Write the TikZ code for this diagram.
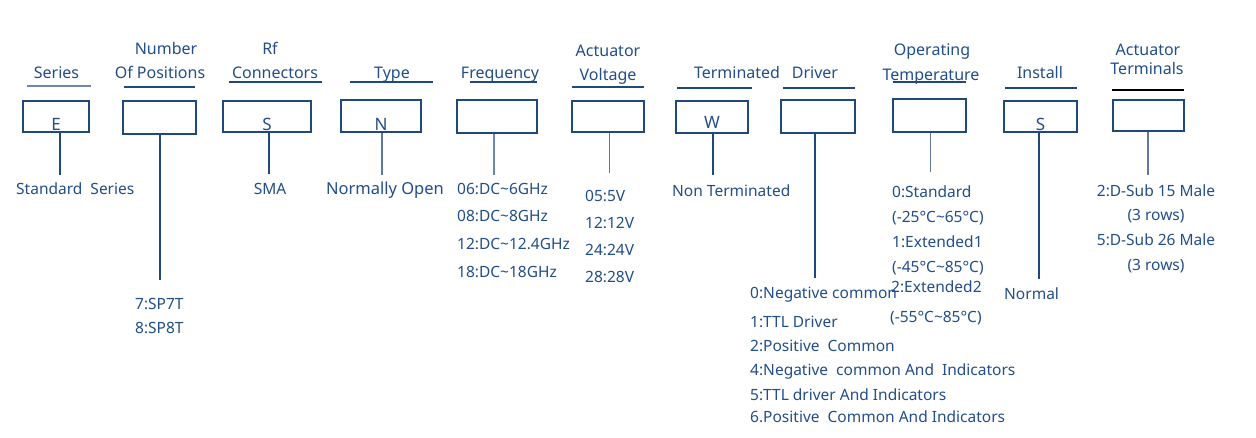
\documentclass[tikz,border=0pt]{standalone}
\usepackage{fontspec}
\setmainfont{Noto Sans}
\definecolor{txt}{RGB}{34,78,138}
\definecolor{ln}{RGB}{31,73,125}
\definecolor{lnl}{RGB}{110,135,175}
\definecolor{lng}{RGB}{95,120,155}
\tikzset{
  hdr/.style={font=\fontsize{16}{18}\selectfont, text=txt, inner sep=0pt, anchor=mid, yshift=-3pt},
  val/.style={font=\fontsize{15.5}{18}\selectfont, text=txt, inner sep=0pt, anchor=mid west, yshift=-3pt},
  valc/.style={val, anchor=mid},
  ul/.style={draw=ln, line width=1.6pt},
  codebox/.style={draw=ln, line width=1.3pt, inner sep=0pt, text=txt,
    font=\fontsize{17}{18}\selectfont, text height=29pt, text depth=0pt},
  thickbox/.style={codebox, line width=2.3pt},
  conn/.style={draw=ln, line width=2pt},
  thinconn/.style={draw=lng, line width=1pt},
}
\begin{document}
\begin{tikzpicture}[x=1pt,y=-1pt]
\useasboundingbox[fill=white] (0,0) rectangle (1256,438);

% headers
\node[hdr] (hSeries) at (56.5,73) {Series};
\node[hdr] (hNum) at (166,49) {Number};
\node[hdr] (hPos) at (160,73) {Of Positions};
\node[hdr] (hRf) at (270,49) {Rf};
\node[hdr] (hConn) at (275,73) {Connectors};
\node[hdr] (hType) at (392,73) {Type};
\node[hdr] (hFreq) at (500,73) {Frequency};
\node[hdr] (hAct) at (608,51) {Actuator};
\node[hdr] (hVolt) at (608,75) {Voltage};
\node[hdr] (hTerm) at (737,73) {Terminated};
\node[hdr] (hDrv) at (815,73) {Driver};
\node[hdr] (hOp) at (932,50) {Operating};
\node[hdr] (hTemp) at (931,75) {Temperature};
\node[hdr] (hInst) at (1040,73) {Install};
\node[hdr] (hAct2) at (1148,50) {Actuator};
\node[hdr] (hTerms) at (1147,69) {Terminals};

% header underlines
\draw[ul, draw=lnl] (27,86) -- (91,86);
\draw[ul] (124,87) -- (195,87);
\draw[ul] (229,82) -- (322,82);
\draw[ul] (350,82) -- (433,82);
\draw[ul] (470,82) -- (537,82);
\draw[ul] (572,87) -- (644,87);
\draw[ul] (677,88) -- (752,88);
\draw[ul] (783,88) -- (855,88);
\draw[ul] (893,82) -- (966,82);
\draw[ul] (1005,88) -- (1077,88);
\draw[black, line width=2.6pt] (1112,90) -- (1184,90);

% boxes
\node[codebox, minimum width=66pt, minimum height=31pt] (bE) at (56,116.5) {E};
\node[thickbox, minimum width=73pt, minimum height=33pt] (bP) at (159.5,117.5) {};
\node[codebox, minimum width=88pt, minimum height=31pt] (bS) at (267,116.5) {S};
\node[codebox, minimum width=80pt, minimum height=32pt] (bN) at (381,116) {N};
\node[thickbox, minimum width=80pt, minimum height=33pt] (bF) at (497,116.5) {};
\node[thickbox, minimum width=72pt, minimum height=31pt] (bV) at (608,116.5) {};
\node[codebox, minimum width=72pt, minimum height=32pt, text height=24pt] (bW) at (712,117) {W};
\node[codebox, line width=1.8pt, minimum width=74pt, minimum height=33pt] (bD) at (818,116.5) {};
\node[codebox, line width=1.8pt, minimum width=73pt, minimum height=33pt] (bT) at (929.5,115.5) {};
\node[codebox, minimum width=73pt, minimum height=31pt] (bI) at (1040.5,116.5) {S};
\node[codebox, minimum width=71pt, minimum height=31pt] (bA) at (1148.5,115.5) {};

% connector end points
\coordinate (eE) at (60,175);
\coordinate (eP) at (160,280);
\coordinate (eS) at (269,174);
\coordinate (eN) at (382,175);
\coordinate (eF) at (494,175);
\coordinate (eV) at (609,173);
\coordinate (eW) at (713,175);
\coordinate (eD) at (815,278);
\coordinate (eT) at (930,172);
\coordinate (eI) at (1039,279);
\coordinate (eA) at (1148,175);

\draw[conn] (bE.south -| eE) -- (eE);
\draw[conn] (bP.south -| eP) -- (eP);
\draw[conn, line width=1.6pt] (bS.south -| eS) -- (eS);
\draw[conn, draw=lng] (bN.south -| eN) -- (eN);
\draw[conn, draw=lnl, line width=2.8pt] (bF.south -| eF) -- (eF);
\draw[thinconn] (bV.south -| eV) -- (eV);
\draw[conn] (bW.south -| eW) -- (eW);
\draw[conn] (bD.south -| eD) -- (eD);
\draw[thinconn] (bT.south -| eT) -- (eT);
\draw[conn] (bI.south -| eI) -- (eI);
\draw[conn, draw=lng, line width=1.5pt] (bA.south -| eA) -- (eA);

% values
\node[val] (vE) at (16,189) {Standard\ \ Series};
\node[val] (vP1) at (135,304) {7:SP7T};
\node[val] (vP2) at (135,328) {8:SP8T};
\node[valc] (vS) at (270,189) {SMA};
\node[valc, font=\fontsize{16.5}{18}\selectfont] (vN) at (385,189) {Normally Open};
\node[val] (vF1) at (457,189) {06:DC\textasciitilde 6GHz};
\node[val] (vF2) at (457,216) {08:DC\textasciitilde 8GHz};
\node[val] (vF3) at (457,244) {12:DC\textasciitilde 12.4GHz};
\node[val] (vF4) at (457,272) {18:DC\textasciitilde 18GHz};
\node[val] (vV1) at (585,196) {05:5V};
\node[val] (vV2) at (585,223) {12:12V};
\node[val] (vV3) at (585,250) {24:24V};
\node[val] (vV4) at (585,277) {28:28V};
\node[val] (vW) at (672,191) {Non Terminated};
\node[val] (vD0) at (750,293) {0:Negative common};
\node[val] (vD1) at (750,322) {1:TTL Driver};
\node[val] (vD2) at (750,346) {2:Positive\ \ Common};
\node[val] (vD4) at (750,370) {4:Negative\ \ common And\ \ Indicators};
\node[val] (vD5) at (750,395) {5:TTL driver And Indicators};
\node[val] (vD6) at (750,417) {6.Positive\ \ Common And Indicators};
\node[val] (vT1) at (892,192) {0:Standard};
\node[val] (vT2) at (892,217) {(-25°C\textasciitilde 65°C)};
\node[val] (vT3) at (892,242) {1:Extended1};
\node[val] (vT4) at (892,267) {(-45°C\textasciitilde 85°C)};
\node[val] (vT5) at (891,287) {2:Extended2};
\node[val] (vT6) at (890,317) {(-55°C\textasciitilde 85°C)};
\node[val] (vI) at (1004,294) {Normal};
\node[valc] (vA1) at (1156,191) {2:D-Sub 15 Male};
\node[valc] (vA2) at (1156,215) {(3 rows)};
\node[valc] (vA3) at (1156,240) {5:D-Sub 26 Male};
\node[valc] (vA4) at (1156,265) {(3 rows)};
\end{tikzpicture}
\end{document}
